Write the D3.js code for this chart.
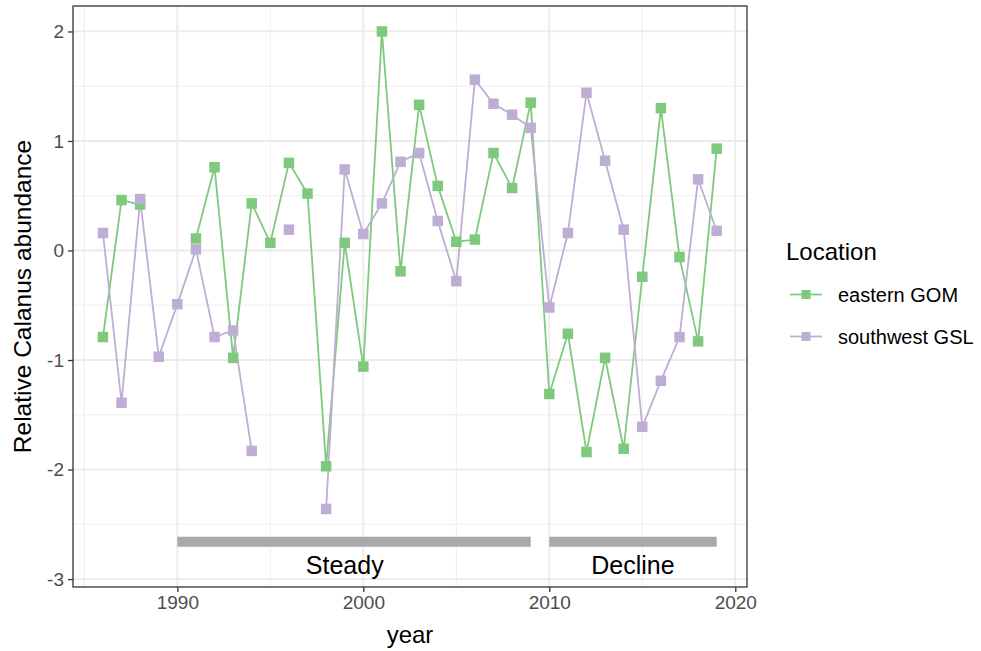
<!DOCTYPE html>
<html>
<head>
<meta charset="utf-8">
<script src="https://cdn.jsdelivr.net/npm/d3@7"></script>
<style>
  html, body { margin: 0; padding: 0; background: #fff; }
  svg { display: block; font-family: "Liberation Sans", Arial, sans-serif; }
</style>
</head>
<body>
<svg id="chart" width="981" height="651"></svg>
<script>
const years = d3.range(1986, 2020);
const eastGOM = [-0.79, 0.46, 0.42, null, null, 0.11, 0.76, -0.98, 0.43, 0.07,
                 0.80, 0.52, -1.97, 0.07, -1.06, 2.00, -0.19, 1.33, 0.59, 0.08,
                 0.10, 0.89, 0.57, 1.35, -1.31, -0.76, -1.84, -0.98, -1.81, -0.24,
                 1.30, -0.06, -0.83, 0.93];
const swGSL = [0.16, -1.39, 0.47, -0.97, -0.49, 0.01, -0.79, -0.73, -1.83, null,
               0.19, null, -2.36, 0.74, 0.15, 0.43, 0.81, 0.89, 0.27, -0.28,
               1.56, 1.34, 1.24, 1.12, -0.52, 0.16, 1.44, 0.82, 0.19, -1.61,
               -1.19, -0.79, 0.65, 0.18];
const seriesNames = ["eastern GOM", "southwest GSL"];
const seriesColors = ["#7FC97F", "#BEAED4"];
const periods = ["Steady", "Decline"];
const periodStart = [1990, 2010];
const periodEnd = [2009, 2019];
const periodLabelX = [1999, 2014.5];
const periodBarY = -2.66;
const periodLabelY = -2.87;
const xTicks = [1990, 2000, 2010, 2020];
const xMinor = [1985, 1995, 2005, 2015];
const yTicks = [-3, -2, -1, 0, 1, 2];
const yMinor = [-2.5, -1.5, -0.5, 0.5, 1.5];

const svg = d3.select("#chart");
const L = 73, R = 747, T = 6, B = 587;
const x = d3.scaleLinear().domain([1984.39, 2020.63]).range([L, R]);
const y = d3.scaleLinear().domain([-3.0725, 2.2325]).range([B, T]);

svg.append("rect").attr("width", 981).attr("height", 651).attr("fill", "#fff");

const grid = svg.append("g");
grid.selectAll(".ymin").data(yMinor).join("line")
  .attr("x1", L).attr("x2", R).attr("y1", d => y(d)).attr("y2", d => y(d))
  .attr("stroke", "#EBEBEB").attr("stroke-width", 0.9);
grid.selectAll(".xmin").data(xMinor).join("line")
  .attr("y1", T).attr("y2", B).attr("x1", d => x(d)).attr("x2", d => x(d))
  .attr("stroke", "#EBEBEB").attr("stroke-width", 0.9);
grid.selectAll(".ymaj").data(yTicks).join("line")
  .attr("x1", L).attr("x2", R).attr("y1", d => y(d)).attr("y2", d => y(d))
  .attr("stroke", "#EBEBEB").attr("stroke-width", 1.8);
grid.selectAll(".xmaj").data(xTicks).join("line")
  .attr("y1", T).attr("y2", B).attr("x1", d => x(d)).attr("x2", d => x(d))
  .attr("stroke", "#EBEBEB").attr("stroke-width", 1.8);

// period bars
const pdata = periods.map((p, i) => ({name: p, s: periodStart[i], e: periodEnd[i], lx: periodLabelX[i]}));
svg.append("g").selectAll("line").data(pdata).join("line")
  .attr("x1", d => x(d.s)).attr("x2", d => x(d.e))
  .attr("y1", y(periodBarY)).attr("y2", y(periodBarY))
  .attr("stroke", "#A9A9A9").attr("stroke-width", 10);
svg.append("g").selectAll("text").data(pdata).join("text")
  .attr("x", d => x(d.lx)).attr("y", y(periodLabelY)).attr("dy", "0.36em")
  .attr("text-anchor", "middle").attr("font-size", 25).attr("fill", "#000")
  .text(d => d.name);

// series
const series = [eastGOM, swGSL].map((vals, i) => ({
  name: seriesNames[i], color: seriesColors[i],
  pts: years.map((yr, j) => ({yr, v: vals[j]}))
}));
const line = d3.line().defined(d => d.v !== null).x(d => x(d.yr)).y(d => y(d.v));
svg.append("g").selectAll("path").data(series).join("path")
  .attr("d", d => line(d.pts)).attr("fill", "none")
  .attr("stroke", d => d.color).attr("stroke-width", 1.8);
const sq = 10.5;
series.forEach(s => {
  svg.append("g").selectAll("rect").data(s.pts.filter(p => p.v !== null)).join("rect")
    .attr("x", d => x(d.yr) - sq / 2).attr("y", d => y(d.v) - sq / 2)
    .attr("width", sq).attr("height", sq).attr("fill", s.color);
});

// border
svg.append("rect").attr("x", L).attr("y", T).attr("width", R - L).attr("height", B - T)
  .attr("fill", "none").attr("stroke", "#333333").attr("stroke-width", 1.3);

// axes
const xAxis = d3.axisBottom(x).tickValues(xTicks).tickFormat(d3.format("d")).tickSize(5).tickPadding(4);
const gx = svg.append("g").attr("transform", `translate(0,${B})`).call(xAxis);
const yAxis = d3.axisLeft(y).tickValues(yTicks).tickFormat(d => d < 0 ? "-" + Math.abs(d) : d).tickSize(5).tickPadding(4);
const gy = svg.append("g").attr("transform", `translate(${L},0)`).call(yAxis);
[gx, gy].forEach(g => {
  g.select(".domain").remove();
  g.selectAll(".tick line").attr("stroke", "#333333").attr("stroke-width", 1.3);
  g.selectAll(".tick text").attr("fill", "#4D4D4D").attr("font-size", 19)
    .attr("font-family", "Liberation Sans, Arial, sans-serif");
});

// axis titles
svg.append("text").attr("x", (L + R) / 2).attr("y", 643).attr("text-anchor", "middle")
  .attr("font-size", 24).attr("fill", "#000").text("year");
svg.append("text").attr("transform", `translate(31,${(T + B) / 2}) rotate(-90)`)
  .attr("text-anchor", "middle").attr("font-size", 24.5).attr("fill", "#000")
  .text("Relative Calanus abundance");

// legend
const leg = svg.append("g");
leg.append("text").attr("x", 786).attr("y", 260).attr("font-size", 24).attr("fill", "#000").text("Location");
series.forEach((s, i) => {
  const cy = 294.5 + i * 42;
  leg.append("line").attr("x1", 790).attr("x2", 822).attr("y1", cy).attr("y2", cy)
    .attr("stroke", s.color).attr("stroke-width", 1.8);
  leg.append("rect").attr("x", 806 - 4.5).attr("y", cy - 4.5).attr("width", 9).attr("height", 9).attr("fill", s.color);
  leg.append("text").attr("x", 838).attr("y", cy).attr("dy", "0.36em")
    .attr("font-size", 20).attr("fill", "#000").text(s.name);
});
</script>
</body>
</html>
